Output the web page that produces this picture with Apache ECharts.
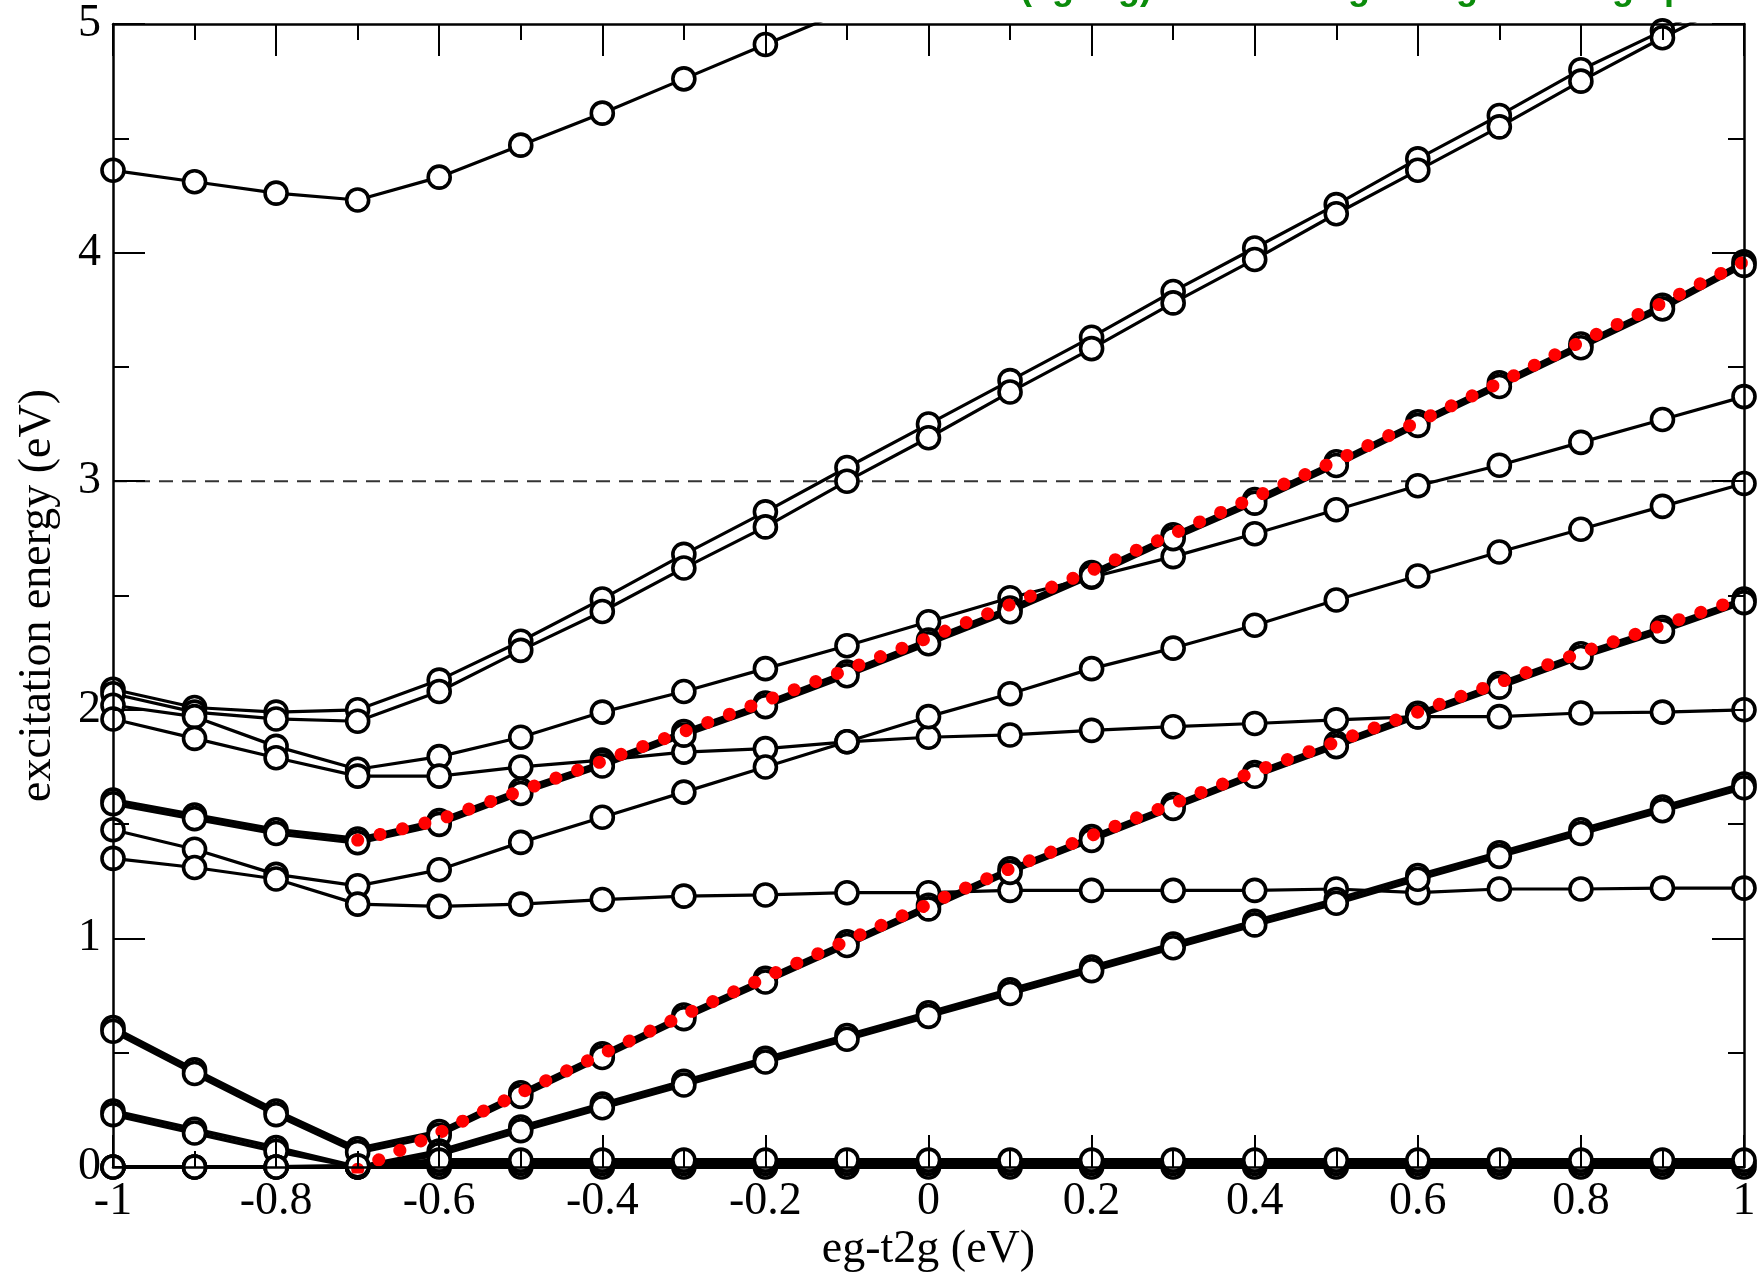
<!DOCTYPE html>
<html><head><meta charset="utf-8">
<script src="https://cdn.jsdelivr.net/npm/echarts@6/dist/echarts.min.js"></script>
<style>html,body{margin:0;padding:0;background:#fff}#c{width:1759px;height:1272px}</style>
</head><body><div id="c"></div>
<script>
// x grid: eg-t2g (eV)
const xValues = [-1,-0.9,-0.8,-0.7,-0.6,-0.5,-0.4,-0.3,-0.2,-0.1,0,0.1,0.2,0.3,0.4,0.5,0.6,0.7,0.8,0.9,1];
const xRed = [-0.7,-0.6,-0.5,-0.4,-0.3,-0.2,-0.1,0,0.1,0.2,0.3,0.4,0.5,0.6,0.7,0.8,0.9,1];
const xTickLabels = ['-1','-0.8','-0.6','-0.4','-0.2','0','0.2','0.4','0.6','0.8','1'];
const yTickLabels = ['0','1','2','3','4','5'];

// black curves (excitation energies, eV) - thin
const lvlTop = [4.36,4.31,4.26,4.23,4.33,4.47,4.61,4.76,4.91,5.06];
const lvlD1 = [2.09,2.01,1.99,2.00,2.13,2.30,2.485,2.68,2.866,3.06,3.25,3.44,3.63,3.83,4.02,4.21,4.41,4.60,4.80,4.97,5.16];
const lvlD2 = [2.07,1.99,1.96,1.95,2.08,2.26,2.43,2.62,2.80,3.00,3.19,3.39,3.58,3.78,3.97,4.17,4.36,4.55,4.75,4.94,5.12];
const lvlE = [2.02,1.97,1.84,1.74,1.795,1.88,1.99,2.08,2.18,2.28,2.385,2.49,2.58,2.67,2.77,2.875,2.98,3.07,3.17,3.27,3.37];
const lvlF = [1.96,1.875,1.79,1.71,1.71,1.75,1.78,1.815,1.83,1.86,1.88,1.89,1.91,1.926,1.94,1.956,1.97,1.97,1.986,1.99,2.0];
const lvlG = [1.475,1.39,1.28,1.23,1.30,1.42,1.53,1.64,1.75,1.86,1.97,2.07,2.18,2.27,2.37,2.48,2.585,2.69,2.79,2.89,2.99];
const lvlI = [1.35,1.31,1.26,1.15,1.14,1.15,1.17,1.185,1.19,1.20,1.20,1.21,1.21,1.21,1.21,1.216,1.20,1.216,1.216,1.22,1.22];
// nearly degenerate pairs (drawn as thick bands)
const lvlH1 = [1.605,1.54,1.475,1.435,1.515,1.65,1.77,1.905,2.03,2.165,2.305,2.445,2.60,2.765,2.92,3.085,3.26,3.43,3.60,3.77,3.96];
const lvlH2 = [1.589,1.524,1.459,1.419,1.499,1.634,1.754,1.889,2.014,2.149,2.289,2.429,2.584,2.749,2.904,3.069,3.244,3.414,3.584,3.754,3.944];
const lvlA1 = [0.61,0.425,0.245,0.08,0.155,0.325,0.495,0.665,0.825,0.985,1.145,1.305,1.445,1.585,1.725,1.855,1.985,2.115,2.245,2.36,2.485];
const lvlA2 = [0.594,0.409,0.229,0.064,0.139,0.309,0.479,0.649,0.809,0.969,1.129,1.289,1.429,1.569,1.709,1.839,1.969,2.099,2.229,2.344,2.469];
const lvlB1 = [0.245,0.165,0.085,0.0,0.07,0.175,0.275,0.375,0.475,0.575,0.675,0.775,0.875,0.975,1.075,1.17,1.275,1.375,1.475,1.575,1.675];
const lvlB2 = [0.229,0.149,0.069,0.0,0.054,0.159,0.259,0.359,0.459,0.559,0.659,0.759,0.859,0.959,1.059,1.154,1.259,1.359,1.459,1.559,1.659];
const lvlZ1 = [0,0,0,0,0,0,0,0,0,0,0,0,0,0,0,0,0,0,0,0,0];
const lvlZ2 = [0,0,0,0,0.015,0.015,0.015,0.015,0.015,0.015,0.015,0.015,0.015,0.015,0.015,0.015,0.015,0.015,0.015,0.015,0.015];
const lvlZ3 = [0,0,0,0.005,0.03,0.03,0.03,0.03,0.03,0.03,0.03,0.03,0.03,0.03,0.03,0.03,0.03,0.03,0.03,0.03,0.03];

// red dotted model curves
const red1 = [1.43,1.52,1.645,1.775,1.905,2.04,2.175,2.315,2.46,2.61,2.77,2.93,3.09,3.26,3.43,3.61,3.78,3.96];
const red2 = [-0.01,0.15,0.325,0.495,0.665,0.83,0.99,1.15,1.305,1.45,1.59,1.73,1.86,1.99,2.12,2.25,2.37,2.49];

// horizontal reference line
const refX = [-1, 1];
const refY = [3, 3];

const titleText = '(eg-t2g) for the integral t2g exchange parameter scan on a site';

function pairs(xs, ys){ return ys.map((y,i)=>[xs[i], y]); }

const thinSets = [lvlTop,lvlD1,lvlD2,lvlE,lvlF,lvlG,lvlI];
const thickSets = [lvlH1,lvlH2,lvlA1,lvlA2,lvlB1,lvlB2,lvlZ1,lvlZ2,lvlZ3];
const series = [];
function blackSeries(ys, w){
  return {
    type:'line', data:pairs(xValues, ys), xAxisIndex:0, yAxisIndex:0,
    symbol:'circle', symbolSize:22, showSymbol:true,
    lineStyle:{color:'#000', width:w},
    itemStyle:{color:'#fff', borderColor:'#000', borderWidth:3.6},
    z:3, silent:true
  };
}
thinSets.forEach(ys=>series.push(blackSeries(ys, 3.2)));
thickSets.forEach(ys=>series.push(blackSeries(ys, 4.2)));
series.push({
  type:'line', data:pairs(refX, refY), symbol:'none',
  lineStyle:{color:'#333', width:2, type:[14,9]}, z:2, silent:true
});
[red1, red2].forEach((ys)=>{
  series.push({
    type:'line', data:pairs(xRed, ys), symbol:'none',
    lineStyle:{color:'#ff0000', width:13, type:[0.1,23], cap:'round'},
    z:6, silent:true
  });
});

const serif = '"Liberation Serif", "Times New Roman", serif';
const chart = echarts.init(document.getElementById('c'), null, {renderer:'canvas'});
chart.setOption({
  animation:false,
  backgroundColor:'#fff',
  grid:{left:113, right:15, top:24, bottom:105, containLabel:false, outerBoundsMode:'none'},
  graphic:[{
    type:'text', left:1020, top:-29, z:20,
    style:{text:titleText, font:'bold 36px "Liberation Sans", Arial, sans-serif', fill:'#0b8c0b'}
  }],
  xAxis:[{
    type:'value', min:-1, max:1, interval:0.2, position:'bottom', z:10,
    name:'eg-t2g (eV)', nameLocation:'middle', nameGap:60, nameMoveOverlap:false,
    nameTextStyle:{fontFamily:serif, fontSize:46, color:'#000'},
    axisLine:{show:true, onZero:false, lineStyle:{color:'#000', width:2.5}},
    axisTick:{show:true, inside:true, length:32, lineStyle:{color:'#000', width:2}},
    minorTick:{show:true, splitNumber:2, length:16, lineStyle:{color:'#000', width:2}},
    splitLine:{show:false},
    axisLabel:{fontFamily:serif, fontSize:46, color:'#000', margin:12,
      formatter:(v)=>{ const i=Math.round((v+1)/0.2); return xTickLabels[i]; }}
  },{
    type:'value', min:-1, max:1, interval:0.2, position:'top', z:10,
    axisLine:{show:true, onZero:false, lineStyle:{color:'#000', width:2.5}},
    axisTick:{show:true, inside:true, length:32, lineStyle:{color:'#000', width:2}},
    minorTick:{show:true, splitNumber:2, length:16, lineStyle:{color:'#000', width:2}},
    splitLine:{show:false}, axisLabel:{show:false}
  }],
  yAxis:[{
    type:'value', min:0, max:5, interval:1, position:'left', z:10,
    name:'excitation energy (eV)', nameLocation:'middle', nameGap:52, nameMoveOverlap:false,
    nameTextStyle:{fontFamily:serif, fontSize:46, color:'#000'},
    axisLine:{show:true, onZero:false, lineStyle:{color:'#000', width:2.5}},
    axisTick:{show:true, inside:true, length:32, lineStyle:{color:'#000', width:2}},
    minorTick:{show:true, splitNumber:2, length:16, lineStyle:{color:'#000', width:2}},
    splitLine:{show:false},
    axisLabel:{fontFamily:serif, fontSize:46, color:'#000', margin:12,
      formatter:(v)=>yTickLabels[Math.round(v)]}
  },{
    type:'value', min:0, max:5, interval:1, position:'right', z:10,
    axisLine:{show:true, onZero:false, lineStyle:{color:'#000', width:2.5}},
    axisTick:{show:true, inside:true, length:32, lineStyle:{color:'#000', width:2}},
    minorTick:{show:true, splitNumber:2, length:16, lineStyle:{color:'#000', width:2}},
    splitLine:{show:false}, axisLabel:{show:false}
  }],
  series: series
});
</script></body></html>
